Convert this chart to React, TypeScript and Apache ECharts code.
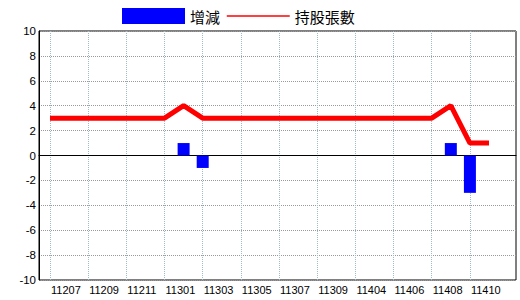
import React, { useEffect, useRef } from "react";
import * as echarts from "echarts";

const categories = ["11207","11208","11209","11210","11211","11212","11301","11302","11303","11304","11305","11306","11307","11308","11309","11403","11404","11405","11406","11407","11408","11409","11410","11411"];
const holdings = [3,3,3,3,3,3,3,4,3,3,3,3,3,3,3,3,3,3,3,3,3,4,1,1];
const changes = [0,0,0,0,0,0,0,1,-1,0,0,0,0,0,0,0,0,0,0,0,0,1,-3,0];
const yTicks = { min: -10, max: 10, interval: 2 };

const numFont = "'Liberation Sans', Arial, sans-serif";
const cjkFont = "'Noto Sans CJK TC', 'Noto Sans CJK SC', sans-serif";

export default function App() {
  const ref = useRef<HTMLDivElement>(null);
  useEffect(() => {
    document.body.style.margin = "0";
    const chart = echarts.init(ref.current!, null, { renderer: "svg" });
    chart.setOption({
      animation: false,
      backgroundColor: "#fff",
      legend: {
        left: 122,
        top: 8,
        padding: 0,
        itemWidth: 63,
        itemHeight: 16,
        itemGap: 6,
        textStyle: { fontFamily: cjkFont, fontSize: 15, color: "#000" },
        data: [
          { name: "增減", icon: "rect", itemStyle: { color: "#0000ff" } },
          {
            name: "持股張數",
            lineStyle: { width: 1.5, color: "#ff0000" },
            itemStyle: { color: "rgba(0,0,0,0)", borderWidth: 0, opacity: 0 },
          },
        ],
      },
      grid: [
        { left: 39, right: 4, top: 31, bottom: 20, show: true, borderColor: "#000", borderWidth: 1 },
        { left: 50, right: 31, top: 31, bottom: 20 },
      ],
      xAxis: [
        {
          gridIndex: 0, type: "value", min: 0, max: 1,
          axisLine: { show: true, onZero: true, lineStyle: { color: "#000", width: 1 } },
          axisTick: { show: false }, axisLabel: { show: false }, splitLine: { show: false },
        },
        {
          gridIndex: 1, type: "category", boundaryGap: false, data: categories,
          axisLine: { show: false }, axisTick: { show: false },
          axisLabel: {
            interval: 1, align: "left", margin: 4, fontSize: 11, color: "#000",
            fontFamily: numFont, padding: [0, 0, 0, 1],
          },
          splitLine: { show: true, interval: 1, lineStyle: { color: "#a0bccc", type: "dotted", width: 1 } },
        },
      ],
      yAxis: [
        {
          gridIndex: 0, type: "value", ...yTicks,
          axisLine: { show: true, lineStyle: { color: "#000" } },
          axisTick: { show: false },
          axisLabel: { margin: 3, fontSize: 11.5, color: "#000", fontFamily: numFont },
          splitLine: { show: true, lineStyle: { color: "#999", type: "dotted", width: 1 } },
        },
        {
          gridIndex: 1, type: "value", ...yTicks, show: false,
          splitLine: { show: false },
        },
      ],
      series: [
        {
          name: "增減", type: "bar", xAxisIndex: 1, yAxisIndex: 1, data: changes,
          barWidth: 12, itemStyle: { color: "#0000ff" },
        },
        {
          name: "持股張數", type: "line", xAxisIndex: 1, yAxisIndex: 1, data: holdings,
          symbol: "none", lineStyle: { color: "#ff0000", width: 5 }, itemStyle: { color: "#ff0000" }, z: 3,
        },
      ],
    });
    return () => chart.dispose();
  }, []);
  return <div ref={ref} style={{ width: 520, height: 300 }} />;
}
